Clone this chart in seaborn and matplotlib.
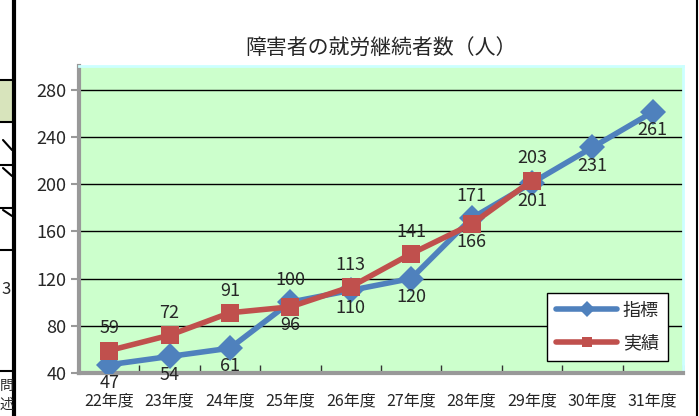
import seaborn as sns
import matplotlib.pyplot as plt
import matplotlib.patches as mpatches
from matplotlib.lines import Line2D
import pandas as pd


# data
years = ['22年度', '23年度', '24年度', '25年度', '26年度',
         '27年度', '28年度', '29年度', '30年度', '31年度']
target = [47, 54, 61, 100, 110, 120, 171, 201, 231, 261]   # 指標
actual = [59, 72, 91, 96, 113, 141, 166, 203]              # 実績
series_names = ['指標', '実績']
title = '障害者の就労継続者数（人）'
yticks = [40, 80, 120, 160, 200, 240, 280]

blue = '#4F81BD'
red = '#C0504D'

sns.set_theme(style="white")
plt.rcParams['font.family'] = ['Noto Sans CJK JP', 'DejaVu Sans']

rows = []
for i, v in enumerate(target):
    rows.append({'x': i, 'value': v, 'series': series_names[0]})
for i, v in enumerate(actual):
    rows.append({'x': i, 'value': v, 'series': series_names[1]})
df = pd.DataFrame(rows)

fig = plt.figure(figsize=(6.99, 4.16), dpi=100)
fig.patch.set_facecolor('white')
ax = fig.add_axes([0.113, 0.1034, 0.864, 0.738])
ax.set_facecolor('#CCFFCC')

# grid lines first, under the series
for y in yticks[1:]:
    ax.axhline(y, color='black', lw=1, zorder=1)

sns.lineplot(data=df, x='x', y='value', hue='series', style='series',
             hue_order=series_names, style_order=series_names,
             palette={'指標': blue, '実績': red},
             markers={'指標': 'D', '実績': 's'}, dashes=False,
             lw=4, markersize=13, markeredgewidth=0, ax=ax, zorder=3)

# data labels: higher value above, lower below
lab_kw = dict(textcoords='offset points', ha='center', va='center',
              fontsize=13, zorder=5)
for i in range(len(years)):
    t = target[i]
    a = actual[i] if i < len(actual) else None
    if a is None:
        ax.annotate(str(t), (i, t), xytext=(0, -13), **lab_kw)
        continue
    hi, lo = (t, a) if t > a else (a, t)
    ax.annotate(str(hi), (i, hi), xytext=(0, 16), **lab_kw)
    ax.annotate(str(lo), (i, lo), xytext=(0, -13), **lab_kw)

ax.set_xlim(-0.5, len(years) - 0.5)
ax.set_ylim(40, 300)
ax.set_yticks(yticks)
ax.set_yticklabels([str(v) for v in yticks], fontsize=13)
ax.set_xticks(range(len(years)))
ax.set_xticklabels(years, fontsize=11.5)
ax.set_xticks([i - 0.5 for i in range(len(years) + 1)], minor=True)
ax.tick_params(axis='x', which='major', length=0, pad=14)
ax.tick_params(axis='x', which='minor', direction='in', length=6,
               width=1, color='0.2', bottom=True)
ax.tick_params(axis='y', which='major', direction='out', length=6,
               width=1.5, color='0.6', left=True, pad=3)
ax.set(xlabel=None, ylabel=None)

for side in ['left', 'bottom']:
    ax.spines[side].set_linewidth(3)
    ax.spines[side].set_color('0.6')
for side in ['top', 'right']:
    ax.spines[side].set_linewidth(2)
    ax.spines[side].set_color('#CCFFFF')

ax.set_title(title, fontsize=15, pad=9)

sns.move_legend(ax, 'lower right', bbox_to_anchor=(0.975, 0.039), title=None,
                frameon=True, fancybox=False, edgecolor='black', framealpha=1,
                fontsize=13, handlelength=3.4, markerscale=0.6,
                borderpad=0.5, labelspacing=0.8, handletextpad=0.3,
                borderaxespad=0)
leg = ax.get_legend()
leg.get_frame().set_linewidth(1)
for h in leg.legend_handles:
    h.set_linewidth(4)

# bits of the surrounding document that show at the screenshot edges
W, H = 699, 416
def px(x, y):
    return x / W, 1 - y / H

fig.add_artist(mpatches.Rectangle(px(0, 122), 13 / W, 42 / H,
                                  transform=fig.transFigure, color='#D8E4BC', lw=0))
fig.add_artist(Line2D([14 / W, 14 / W], [0, 1], transform=fig.transFigure,
                      color='black', lw=3))
for y in [80, 122, 165, 208, 250, 371]:
    fig.add_artist(Line2D([0, 14 / W], [1 - y / H] * 2, transform=fig.transFigure,
                          color='black', lw=1.5))
for y0, y1 in [(140, 150), (168, 176), (210, 216)]:
    fig.add_artist(Line2D([3 / W, 12 / W], [1 - y0 / H, 1 - y1 / H],
                          transform=fig.transFigure, color='black', lw=1.5))
fig.text(*px(1, 290), '3', fontsize=12, va='center', ha='left')
fig.text(*px(0, 386), '問', fontsize=10, va='center', ha='left')
fig.text(*px(0, 405), '述', fontsize=10, va='center', ha='left')
fig.add_artist(Line2D([697 / W, 697 / W], [0, 1], transform=fig.transFigure,
                      color='black', lw=1.5))

fig.savefig('out.png', dpi=100)
